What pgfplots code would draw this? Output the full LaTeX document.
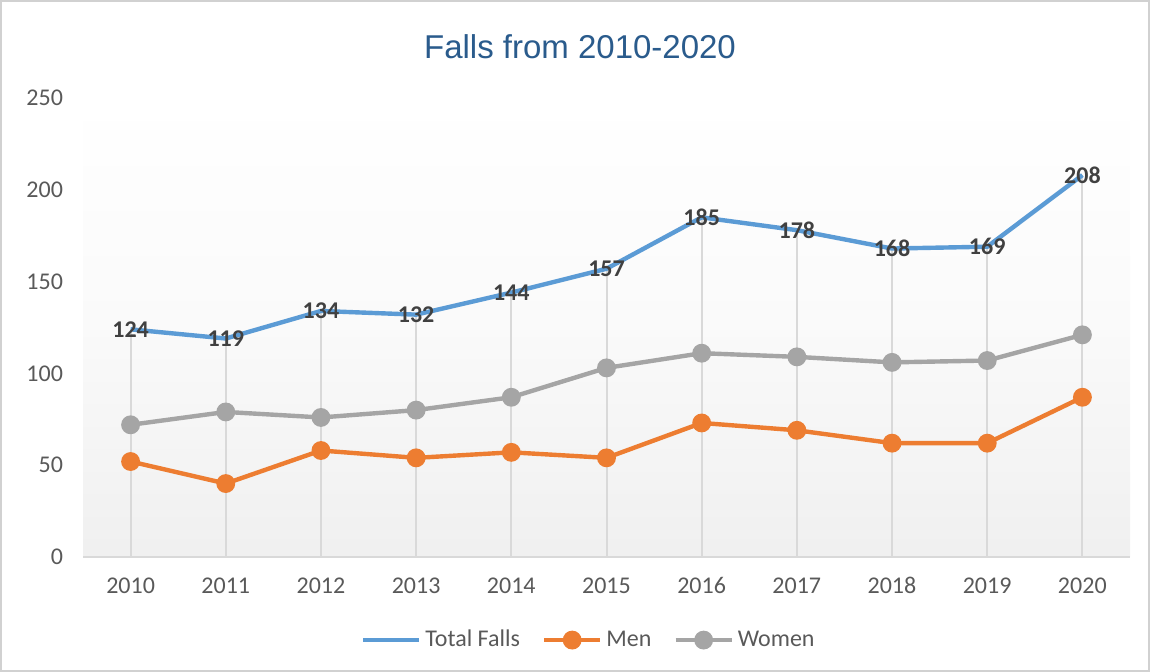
\documentclass[border=0pt]{standalone}
\usepackage{fontspec}
\setmainfont{Carlito}
\newfontfamily\titlefont{Liberation Sans}
\usepackage{pgfplots}
\usepackage{pgfplotstable}
\pgfplotsset{compat=1.18}

\definecolor{cTotal}{HTML}{5B9BD5}
\definecolor{cMen}{HTML}{ED7D31}
\definecolor{cWomen}{HTML}{A5A5A5}
\definecolor{cTitle}{HTML}{2A5B8C}
\definecolor{cText}{HTML}{595959}
\definecolor{cLabel}{HTML}{404040}
\definecolor{cGrid}{HTML}{D9D9D9}

\pgfplotstableread{
year total men women
2010 124 52 72
2011 119 40 79
2012 134 58 76
2013 132 54 80
2014 144 57 87
2015 157 54 103
2016 185 73 111
2017 178 69 109
2018 168 62 106
2019 169 62 107
2020 208 87 121
}\falls

\begin{document}
\begin{tikzpicture}
% outer chart frame
\draw[black!18, line width=0.8pt] (-41.1pt,-57.1pt) rectangle (533.1pt,278.1pt);
\begin{axis}[
    scale only axis,
    width=523.5pt, height=229.5pt,
    at={(0,0)}, anchor=south west,
    xmin=2009.5, xmax=2020.5,
    ymin=0, ymax=250,
    xtick={2010,...,2020},
    ytick={0,50,...,250},
    x tick label style={/pgf/number format/1000 sep={}},
    /pgf/number format/assume math mode=true,
    tick label style={font=\fontsize{12}{14}\selectfont, text=cText},
    yticklabel style={xshift=-6.5pt},
    xticklabel style={yshift=-7pt, text height=1.6ex, text depth=0.2ex},
    major tick length=0pt,
    axis x line*=bottom,
    axis y line*=left,
    x axis line style={cGrid, line width=1.2pt, -},
    y axis line style={draw=none},
    axis background/.style={shade, top color=white, bottom color=black!6, middle color=black!2},
    clip=false,
    legend columns=3,
    legend style={at={(0.484,-0.181)}, anchor=center, draw=none, fill=none,
        font=\fontsize{12}{14}\selectfont, text=cText,
        /tikz/every even column/.append style={column sep=9pt}},
    legend image code/.code={
        \draw[mark repeat=2, mark phase=2, #1]
            plot coordinates {(0pt,0pt) (14pt,0pt) (28pt,0pt)};},
]
% drop lines from the top series
\addplot[ycomb, cGrid, line width=1pt, forget plot] table[x=year, y=total] {\falls};

\addplot[cTotal, line width=2.2pt, no markers,
    nodes near coords, point meta=explicit symbolic,
    every node near coord/.style={anchor=center, font=\fontsize{12}{14}\selectfont\bfseries, text=cLabel}]
    table[x=year, y=total, meta=total] {\falls};
\addlegendentry{Total Falls}

\addplot[cMen, line width=2.2pt, mark=*, mark size=3.6pt, mark options={fill=cMen, draw=cMen}]
    table[x=year, y=men] {\falls};
\addlegendentry{Men}

\addplot[cWomen, line width=2.2pt, mark=*, mark size=3.6pt, mark options={fill=cWomen, draw=cWomen}]
    table[x=year, y=women] {\falls};
\addlegendentry{Women}
\end{axis}
\node[font=\titlefont\fontsize{16.5}{20}\selectfont, text=cTitle] at (248.5pt,255pt) {Falls from 2010-2020};
\end{tikzpicture}
\end{document}
